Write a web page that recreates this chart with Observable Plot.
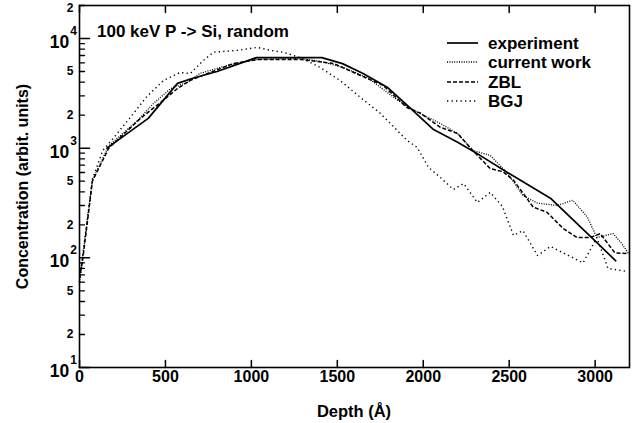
<!DOCTYPE html>
<html><head><meta charset="utf-8">
<script src="https://cdn.jsdelivr.net/npm/d3@7"></script>
<script src="https://cdn.jsdelivr.net/npm/@observablehq/plot@0.6"></script>
<style>
body{margin:0;background:#fff;}
svg{font-family:"Liberation Sans",Arial,Helvetica,sans-serif;}
</style>
</head><body><div id="chart"></div>
<script>
// ---- data ----
const expDepth = [160, 400, 570, 650, 800, 1030, 1410, 1530, 1650, 1790, 1920, 2060, 2200, 2330, 2490, 2740, 2980, 3120];
const expConc  = [1000, 1870, 3900, 4300, 5000, 6700, 6700, 5900, 4800, 3600, 2350, 1480, 1130, 860, 600, 350, 153, 94];

const curDepth = [0, 20, 75, 170, 340, 430, 530, 630, 700, 880, 1035, 1285, 1400, 1535, 1675, 1750, 1850, 1925, 2000, 2100, 2200, 2290, 2390, 2490, 2580, 2665, 2780, 2870, 2955, 3010, 3105, 3155, 3195];
const curConc  = [60, 105, 510, 1050, 1800, 2550, 3500, 4000, 4800, 5800, 6450, 6600, 6200, 5450, 4400, 3600, 2750, 2300, 2000, 1680, 1360, 950, 860, 590, 370, 315, 300, 335, 235, 153, 166, 135, 109];

const zblDepth = [0, 20, 75, 170, 355, 470, 570, 645, 745, 895, 1035, 1285, 1480, 1635, 1765, 1905, 1985, 2100, 2200, 2275, 2390, 2465, 2525, 2640, 2720, 2815, 2895, 2970, 3030, 3115, 3195];
const zblConc  = [65, 100, 500, 1000, 1870, 2600, 3500, 4150, 4800, 5900, 6450, 6450, 5900, 4600, 3750, 2350, 2080, 1550, 1360, 1000, 650, 610, 510, 290, 260, 185, 153, 153, 166, 111, 109];

const bgjDepth = [0, 20, 75, 135, 200, 295, 395, 490, 585, 645, 720, 780, 920, 1035, 1110, 1185, 1285, 1400, 1515, 1635, 1750, 1820, 1905, 1965, 2030, 2100, 2175, 2235, 2315, 2390, 2460, 2525, 2580, 2665, 2740, 2930, 3010, 3075, 3190];
const bgjConc  = [60, 110, 520, 950, 1250, 1900, 3000, 4150, 4900, 4800, 6300, 7500, 7800, 8300, 7800, 7500, 6700, 5450, 4150, 2900, 2080, 1610, 1180, 1015, 670, 540, 420, 475, 320, 395, 295, 160, 177, 105, 127, 90, 153, 80, 75];

const seriesNames = ["experiment", "current work", "ZBL", "BGJ"];
const xTicks = [0, 500, 1000, 1500, 2000, 2500, 3000];
const yMajor = [10, 100, 1000, 10000];
const yMinor = [20,30,40,50,60,70,80,90,200,300,400,500,600,700,800,900,2000,3000,4000,5000,6000,7000,8000,9000,20000];
const yMinorLabels = [20, 50, 200, 500, 2000, 5000];
const yTopLabel = [20000];
const yMajorExp = ["1", "2", "3", "4"];
const title = "100 keV P -> Si, random";
const xLabel = "Depth (Å)";
const yLabel = "Concentration (arbit. units)";

// ---- styles ----
const styles = [
  {dash: null, width: 1.7, cap: "round"},
  {dash: "1,1.4", width: 1.3, cap: "butt"},
  {dash: "4,2", width: 1.5, cap: "butt"},
  {dash: "1.3,3.2", width: 1.4, cap: "butt"}
];
const sets = [[expDepth, expConc], [curDepth, curConc], [zblDepth, zblConc], [bgjDepth, bgjConc]];
const tables = sets.map(([d, c], k) => d.map((v, i) => ({depth: v, conc: c[i], series: seriesNames[k]})));

const tickShape = {draw(ctx, l) { ctx.moveTo(0, 0); ctx.lineTo(0, -l); }};
const minorText = {frameAnchor: "left", dx: -6, text: d => String(d).charAt(0), textAnchor: "end", fontSize: 12, fontWeight: "bold", fill: "black"};

const chart = Plot.plot({
  width: 641, height: 423,
  marginLeft: 79, marginRight: 12, marginTop: 5, marginBottom: 56,
  x: {domain: [0, 3200], axis: null},
  y: {type: "log", domain: [10, 20000], axis: null},
  marks: [
    ...tables.map((t, k) => Plot.line(t, {x: "depth", y: "conc", stroke: "black",
      strokeWidth: styles[k].width, strokeDasharray: styles[k].dash, strokeLinecap: styles[k].cap})),
    Plot.frame({stroke: "black", strokeWidth: 1.6}),
    Plot.vector(xTicks, {x: d => d, frameAnchor: "bottom", length: 7, rotate: 0, anchor: "start", shape: tickShape, stroke: "black", strokeWidth: 1.5}),
    Plot.vector(xTicks, {x: d => d, frameAnchor: "top", length: 7, rotate: 180, anchor: "start", shape: tickShape, stroke: "black", strokeWidth: 1.5}),
    Plot.vector(yMajor, {y: d => d, frameAnchor: "left", length: 10, rotate: 90, anchor: "start", shape: tickShape, stroke: "black", strokeWidth: 1.5}),
    Plot.vector(yMinor, {y: d => d, frameAnchor: "left", length: 5, rotate: 90, anchor: "start", shape: tickShape, stroke: "black", strokeWidth: 1.3}),
    Plot.text(xTicks, {x: d => d, frameAnchor: "bottom", dy: 14, text: d => String(d), fontSize: 16, fontWeight: "bold", fill: "black"}),
    Plot.text(yMinorLabels, {y: d => d, ...minorText}),
    Plot.text(yTopLabel, {y: d => d, ...minorText, dy: 3})
  ]
});

const svg = d3.select(chart);
const ys = chart.scale("y");
// major y labels with superscripts
yMajor.forEach((v, i) => {
  const ty = ys.apply(v);
  const t = svg.append("text").attr("x", 77).attr("y", ty + 10).attr("text-anchor", "end")
    .attr("font-weight", "bold").attr("font-size", 17.5).attr("fill", "black");
  t.append("tspan").text("10");
  t.append("tspan").attr("dx", 1).attr("dy", -13).attr("font-size", 12).text(yMajorExp[i]);
});
// title
svg.append("text").attr("x", 97).attr("y", 37).attr("text-anchor", "start").attr("font-size", 17).attr("font-weight", "bold").attr("fill", "black").text(title);
// axis labels
svg.append("text").attr("x", 354).attr("y", 417).attr("text-anchor", "middle").attr("font-size", 16.5).attr("font-weight", "bold").attr("fill", "black").text(xLabel);
svg.append("text").attr("transform", "translate(28,186.5) rotate(-90)").attr("text-anchor", "middle").attr("font-size", 16).attr("font-weight", "bold").attr("fill", "black").text(yLabel);
// legend
const legY = [43, 62, 82, 101];
seriesNames.forEach((n, k) => {
  const l = svg.append("line").attr("x1", 447).attr("x2", 478).attr("y1", legY[k]).attr("y2", legY[k])
    .attr("stroke", "black").attr("stroke-width", styles[k].width);
  if (styles[k].dash) l.attr("stroke-dasharray", styles[k].dash);
  svg.append("text").attr("x", 488).attr("y", legY[k] + 6).attr("text-anchor", "start").attr("font-size", 17).attr("font-weight", "bold").attr("fill", "black").text(n);
});

document.getElementById("chart").appendChild(chart);
</script>
</body></html>
